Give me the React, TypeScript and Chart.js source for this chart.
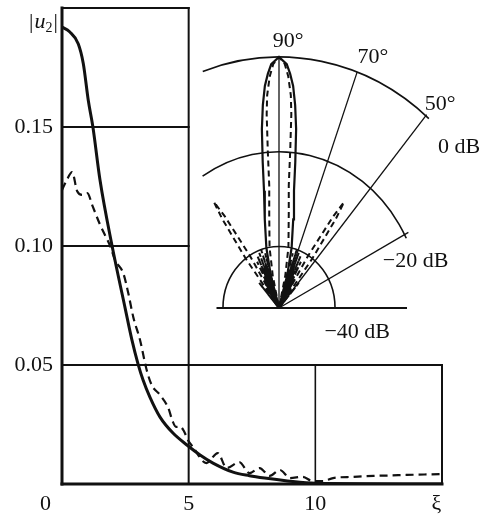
import React, { useEffect, useRef } from "react";
import { Chart, registerables } from "chart.js";

Chart.register(...registerables);

// ---------------- main chart data ----------------
const X_TICKS = [0, 5, 10, 15];
const X_TICK_LABELS = ["0", "5", "10", "ξ"];
const Y_TICKS = [0.05, 0.1, 0.15];
const Y_TICK_LABELS = ["0.05", "0.10", "0.15"];
const Y_TITLE = "|u2|";

// solid curve |u2|(ξ)
const SOLID_XI = [0, 0.3, 0.64, 0.84, 1.04, 1.22, 1.5, 1.97, 2.5, 2.75, 3.0, 3.2, 3.47, 3.87, 4.38, 4.93, 5.45, 5.96, 6.75, 7.4, 8.0, 8.9, 10.0, 15];
const SOLID_U = [0.192, 0.19, 0.185, 0.1767, 0.161, 0.15, 0.1277, 0.1004, 0.0735, 0.061, 0.0505, 0.0437, 0.0365, 0.0281, 0.0214, 0.0164, 0.0122, 0.0088, 0.005, 0.0035, 0.0025, 0.0013, 0.0003, 0];

// dashed curve |u2|(ξ)
const DASHED_XI = [0, 0.2, 0.4, 0.6, 0.8, 1.0, 1.2, 1.5, 1.9, 2.1, 2.42, 2.62, 2.81, 3.08, 3.34, 3.54, 3.87, 4.2, 4.36, 4.5, 4.65, 4.8, 4.97, 5.17, 5.7, 6.15, 6.5, 7.0, 7.4, 7.8, 8.2, 8.6, 9.0, 9.5, 9.9, 10.3, 10.7, 11.5, 12.3, 13.0, 13.6, 14.3, 15];
const DASHED_U = [0.1235, 0.128, 0.131, 0.123, 0.1215, 0.1222, 0.117, 0.109, 0.1, 0.094, 0.0885, 0.08, 0.0703, 0.0605, 0.048, 0.0416, 0.0374, 0.0318, 0.0266, 0.024, 0.0242, 0.0225, 0.0185, 0.0155, 0.0088, 0.013, 0.0067, 0.0092, 0.0046, 0.0067, 0.0034, 0.0059, 0.0025, 0.003, 0.0012, 0.0012, 0.0025, 0.003, 0.0034, 0.0036, 0.0038, 0.004, 0.0042];

// frame / grid segments in data units
const FRAME_H = [
  { y: 0.2, from: 0, to: 5, w: 2 },
  { y: 0.15, from: 0, to: 5, w: 2 },
  { y: 0.1, from: 0, to: 5, w: 2 },
  { y: 0.05, from: 0, to: 15, w: 2 },
  { y: 0, from: 0, to: 15, w: 3 },
];
const FRAME_V = [
  { x: 0, from: 0, to: 0.2, w: 3 },
  { x: 5, from: 0, to: 0.2, w: 2 },
  { x: 10, from: 0, to: 0.05, w: 1.6 },
  { x: 15, from: 0, to: 0.05, w: 2 },
];

// ---------------- inset (radiation pattern) data ----------------
const FLOOR_DB = -53; // level at pattern centre
const SOLID_ANGLE = [49, 51.5, 54, 56, 58, 59.5, 61, 62.5, 64, 65.5, 67, 68.5, 70, 71.5, 73, 74.5, 77, 80, 82, 83, 84, 85, 86, 87, 88, 90, 92, 93, 94, 95, 96, 97, 98, 100, 103, 105.5, 107, 108.5, 110, 111.5, 113, 114.5, 116, 117.5, 119, 120.5, 122, 124, 126, 128.5, 131];
const SOLID_DB = [-53, -50, -53, -48, -53, -46.5, -53, -45.5, -53, -44.5, -53, -43.5, -53, -43, -53, -46, -40, -34, -28, -22, -15, -10, -6, -3.5, -1.5, 0, -1.5, -3.5, -6, -10, -15, -22, -28, -34, -40, -46, -53, -43, -53, -43.5, -53, -44.5, -53, -45.5, -53, -46.5, -53, -48, -53, -50, -53];
const DASHED_ANGLE = [46, 49, 52, 53.5, 55, 56, 57, 58.5, 60.5, 62.5, 64, 65.5, 67, 68.5, 70, 71.5, 73, 74.5, 76, 78, 80.3, 83.5, 85, 85.5, 86, 86.5, 87.5, 88.5, 90, 91.5, 92.5, 93.5, 94, 94.5, 95, 96.5, 99.7, 102, 104, 105.5, 107, 108.5, 110, 111.5, 113, 114.5, 116, 117.5, 119.5, 121.5, 123, 124, 125, 126.5, 128, 131, 134];
const DASHED_DB = [-53, -46, -53, -40, -30, -26, -30, -40, -53, -42, -53, -41, -53, -40.5, -53, -40, -53, -41, -53, -46, -40, -33, -27, -20, -12, -8, -4, -1.5, 0, -1.5, -4, -8, -12, -20, -27, -33, -40, -46, -53, -41, -53, -40, -53, -40.5, -53, -41, -53, -42, -53, -40, -30, -26, -30, -40, -53, -46, -53];

const INSET_ARCS = [
  { db: 0, from: 49, to: 109.5 },
  { db: -20, from: 26.5, to: 122.5 },
  { db: -40, from: 0, to: 180 },
];
const INSET_RADIALS = [
  { angle: 90, db: 0 },
  { angle: 70, db: 0 },
  { angle: 50, db: 0.3 },
  { angle: 28, db: -19 },
];
const INSET_BASELINE = { leftDb: -38.5, rightDb: -23.3 };
const INSET_LABELS = [
  { text: "90°", x: 2.1, y: 55.1, align: "center" },
  { text: "70°", x: 21.8, y: 51.7, align: "center" },
  { text: "50°", x: 37.4, y: 41.8, align: "center" },
  { text: "0 dB", x: 36.9, y: 32.7, align: "left" },
  { text: "−20 dB", x: 24.1, y: 8.66, align: "left" },
  { text: "−40 dB", x: 25.75, y: -6.33, align: "right" },
];

// ---------------- styles / layout ----------------
const SERIF = "'Liberation Serif', 'Times New Roman', 'DejaVu Serif', serif";
const WEIGHT = "normal";
const INK = "#111";
const W = 485;
const H = 521;
const X_LABEL_PAD = ["\u2002\u2002\u2002", "", "", "\u2002"];
const INSET_BOX = { left: 190, top: 20, width: 295, height: 330, cx: 279, cy: 308, kx: 4.31, ky: 4.736 };

const toRad = (d: number) => (d * Math.PI) / 180;

function polarPoints(angles: number[], dbs: number[]) {
  return angles.map((a, i) => {
    const r = Math.max(dbs[i], FLOOR_DB) - FLOOR_DB;
    return { x: r * Math.cos(toRad(a)), y: r * Math.sin(toRad(a)) };
  });
}

const mainFramePlugin = {
  id: "mainFrame",
  beforeDatasetsDraw(chart: any) {
    const { ctx } = chart;
    const xs = chart.scales.x;
    const ys = chart.scales.y;
    ctx.save();
    ctx.strokeStyle = INK;
    ctx.lineCap = "square";
    FRAME_H.forEach((s) => {
      ctx.lineWidth = s.w;
      ctx.beginPath();
      const y = ys.getPixelForValue(s.y);
      ctx.moveTo(xs.getPixelForValue(s.from), y);
      ctx.lineTo(xs.getPixelForValue(s.to), y);
      ctx.stroke();
    });
    FRAME_V.forEach((s) => {
      ctx.lineWidth = s.w;
      ctx.beginPath();
      const x = xs.getPixelForValue(s.x);
      ctx.moveTo(x, ys.getPixelForValue(s.from));
      ctx.lineTo(x, ys.getPixelForValue(s.to));
      ctx.stroke();
    });
    ctx.restore();
  },
  afterDraw(chart: any) {
    const { ctx, chartArea } = chart;
    ctx.save();
    ctx.fillStyle = INK;
    ctx.textBaseline = "alphabetic";
    ctx.textAlign = "left";
    let x = chartArea.left - 33;
    const y = chartArea.top + 20;
    const bar = Y_TITLE.charAt(0);
    const sym = Y_TITLE.charAt(1);
    const sub = Y_TITLE.charAt(2);
    ctx.font = `${WEIGHT} 22px ${SERIF}`;
    ctx.fillText(bar, x, y);
    x += ctx.measureText(bar).width + 1;
    ctx.font = `italic ${WEIGHT} 22px ${SERIF}`;
    ctx.fillText(sym, x, y);
    x += ctx.measureText(sym).width;
    ctx.font = `${WEIGHT} 14px ${SERIF}`;
    ctx.fillText(sub, x, y + 4);
    x += ctx.measureText(sub).width + 1;
    ctx.font = `${WEIGHT} 22px ${SERIF}`;
    ctx.fillText(bar, x, y);
    ctx.restore();
  },
};

const insetPlugin = {
  id: "insetFrame",
  beforeDatasetsDraw(chart: any) {
    const { ctx } = chart;
    const xs = chart.scales.x;
    const ys = chart.scales.y;
    const cx = xs.getPixelForValue(0);
    const cy = ys.getPixelForValue(0);
    const pt = (db: number, deg: number) => {
      const r = db - FLOOR_DB;
      return [xs.getPixelForValue(r * Math.cos(toRad(deg))), ys.getPixelForValue(r * Math.sin(toRad(deg)))];
    };
    ctx.save();
    ctx.strokeStyle = INK;
    ctx.lineWidth = 1.6;
    INSET_ARCS.forEach((a) => {
      const r = a.db - FLOOR_DB;
      const rx = xs.getPixelForValue(r) - cx;
      const ry = cy - ys.getPixelForValue(r);
      ctx.beginPath();
      ctx.ellipse(cx, cy, rx, ry, 0, -toRad(a.to), -toRad(a.from));
      ctx.stroke();
    });
    ctx.lineWidth = 1.3;
    INSET_RADIALS.forEach((l) => {
      const [x1, y1] = pt(l.db, l.angle);
      ctx.beginPath();
      ctx.moveTo(cx, cy);
      ctx.lineTo(x1, y1);
      ctx.stroke();
    });
    ctx.lineWidth = 2;
    const [bx0, by0] = pt(INSET_BASELINE.leftDb, 180);
    const [bx1, by1] = pt(INSET_BASELINE.rightDb, 0);
    ctx.beginPath();
    ctx.moveTo(bx0, by0);
    ctx.lineTo(bx1, by1);
    ctx.stroke();
    ctx.restore();
  },
  afterDraw(chart: any) {
    const { ctx } = chart;
    const xs = chart.scales.x;
    const ys = chart.scales.y;
    ctx.save();
    ctx.fillStyle = INK;
    ctx.font = `${WEIGHT} 22px ${SERIF}`;
    ctx.textBaseline = "alphabetic";
    INSET_LABELS.forEach((l) => {
      ctx.textAlign = l.align;
      ctx.fillText(l.text, xs.getPixelForValue(l.x), ys.getPixelForValue(l.y));
    });
    ctx.restore();
  },
};

export default function App() {
  const mainRef = useRef<HTMLCanvasElement | null>(null);
  const insetRef = useRef<HTMLCanvasElement | null>(null);

  useEffect(() => {
    if (!mainRef.current || !insetRef.current) return;
    const tickFont = { family: SERIF, size: 22, weight: WEIGHT };

    const main = new Chart(mainRef.current, {
      type: "scatter",
      data: {
        datasets: [
          {
            data: SOLID_XI.map((x, i) => ({ x, y: SOLID_U[i] })),
            showLine: true,
            borderColor: INK,
            borderWidth: 3,
            pointRadius: 0,
            cubicInterpolationMode: "monotone",
          },
          {
            data: DASHED_XI.map((x, i) => ({ x, y: DASHED_U[i] })),
            showLine: true,
            borderColor: INK,
            borderWidth: 2.2,
            borderDash: [8, 5],
            pointRadius: 0,
            cubicInterpolationMode: "monotone",
          },
        ],
      },
      options: {
        animation: false,
        responsive: false,
        devicePixelRatio: 1,
        events: [],
        layout: { padding: { top: 8, right: 43, left: 0, bottom: 0 }, autoPadding: false },
        plugins: { legend: { display: false }, tooltip: { enabled: false } },
        scales: {
          x: {
            type: "linear",
            min: 0,
            max: 15,
            grid: { display: false, drawTicks: false },
            border: { display: false },
            afterBuildTicks: (s: any) => {
              s.ticks = X_TICKS.map((v) => ({ value: v }));
            },
            afterFit: (s: any) => {
              s.height = 37;
              s.paddingLeft = 0;
              s.paddingRight = 0;
              s.paddingTop = 0;
              s.paddingBottom = 0;
            },
            ticks: {
              font: tickFont,
              color: INK,
              padding: 7,
              maxRotation: 0,
              autoSkip: false,
              callback: (v: any) => {
                const i = X_TICKS.indexOf(Number(v));
                return i >= 0 ? X_TICK_LABELS[i] + X_LABEL_PAD[i] : "";
              },
            },
          },
          y: {
            type: "linear",
            min: 0,
            max: 0.2,
            grid: { display: false, drawTicks: false },
            border: { display: false },
            afterBuildTicks: (s: any) => {
              s.ticks = Y_TICKS.map((v) => ({ value: v }));
            },
            afterFit: (s: any) => {
              s.width = 62;
              s.paddingLeft = 0;
              s.paddingRight = 0;
              s.paddingTop = 0;
              s.paddingBottom = 0;
            },
            ticks: {
              font: tickFont,
              color: INK,
              padding: 9,
              autoSkip: false,
              callback: (v: any) => {
                const i = Y_TICKS.findIndex((t) => Math.abs(t - Number(v)) < 1e-9);
                return i >= 0 ? Y_TICK_LABELS[i] : "";
              },
            },
          },
        },
      },
      plugins: [mainFramePlugin],
    } as any);

    const b = INSET_BOX;
    const inset = new Chart(insetRef.current, {
      type: "scatter",
      data: {
        datasets: [
          {
            data: polarPoints(SOLID_ANGLE, SOLID_DB),
            showLine: true,
            borderColor: INK,
            borderWidth: 2.2,
            pointRadius: 0,
            tension: 0,
          },
          {
            data: polarPoints(DASHED_ANGLE, DASHED_DB),
            showLine: true,
            borderColor: INK,
            borderWidth: 2,
            borderDash: [6, 4],
            pointRadius: 0,
            tension: 0,
          },
        ],
      },
      options: {
        animation: false,
        responsive: false,
        devicePixelRatio: 1,
        events: [],
        layout: { padding: 0, autoPadding: false },
        plugins: { legend: { display: false }, tooltip: { enabled: false } },
        scales: {
          x: {
            type: "linear",
            display: false,
            min: (b.left - b.cx) / b.kx,
            max: (b.left + b.width - b.cx) / b.kx,
          },
          y: {
            type: "linear",
            display: false,
            min: (b.cy - (b.top + b.height)) / b.ky,
            max: (b.cy - b.top) / b.ky,
          },
        },
      },
      plugins: [insetPlugin],
    } as any);

    return () => {
      main.destroy();
      inset.destroy();
    };
  }, []);

  const b = INSET_BOX;
  return (
    <div style={{ position: "fixed", left: 0, top: 0, width: W, height: H, background: "#fff", overflow: "hidden" }}>
      <canvas ref={mainRef} width={W} height={H} style={{ position: "absolute", left: 0, top: 0, width: W, height: H }} />
      <canvas
        ref={insetRef}
        width={b.width}
        height={b.height}
        style={{ position: "absolute", left: b.left, top: b.top, width: b.width, height: b.height }}
      />
    </div>
  );
}
